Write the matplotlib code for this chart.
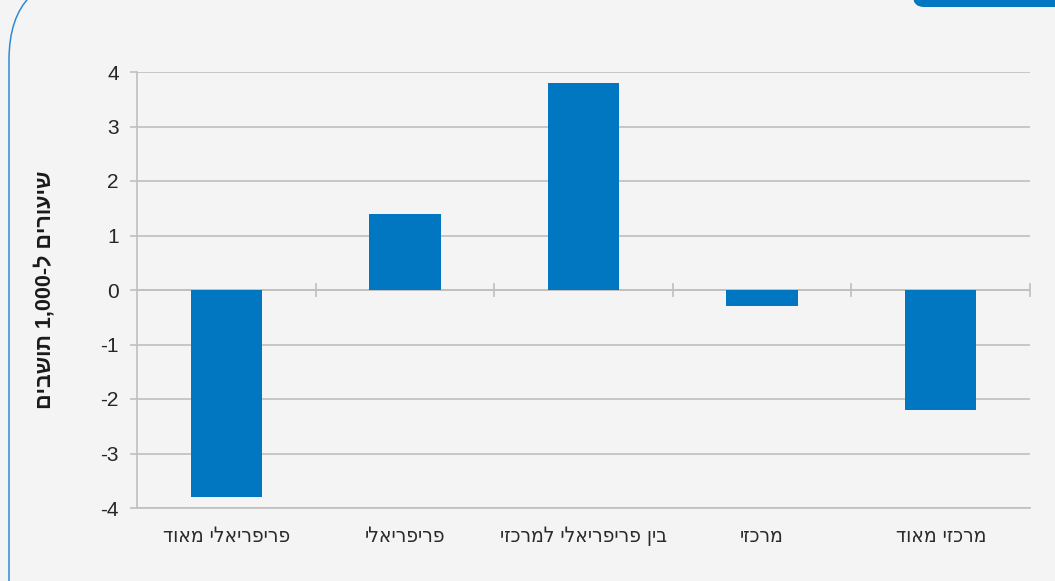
import matplotlib
matplotlib.use("Agg")
import matplotlib.pyplot as plt
from matplotlib.patches import FancyBboxPatch
import numpy as np

# ---- data ----
categories = ["פריפריאלי מאוד", "פריפריאלי", "בין פריפריאלי למרכזי", "מרכזי", "מרכזי מאוד"]
values = [-3.8, 1.4, 3.8, -0.3, -2.2]
yticks = [-4, -3, -2, -1, 0, 1, 2, 3, 4]
ylabel_parts = ["שיעורים", "ל-", "1,000", "תושבים"]

def visual(s):
    # matplotlib has no bidi support: reverse Hebrew text for display
    return s[::-1]

W, H = 1055, 581
fig = plt.figure(figsize=(W / 100, H / 100), dpi=100)
fig.patch.set_facecolor("#f4f4f4")

# decorative overlay in pixel coordinates
deco = fig.add_axes([0, 0, 1, 1], zorder=0)
deco.set_xlim(0, W)
deco.set_ylim(H, 0)
deco.axis("off")
deco.add_patch(FancyBboxPatch((9, -25), 1200, 800,
                              boxstyle="round,pad=0,rounding_size=85",
                              facecolor="none", edgecolor="#2f8ad6", linewidth=1.1))
deco.add_patch(FancyBboxPatch((913, -40), 300, 47,
                              boxstyle="round,pad=0,rounding_size=11",
                              facecolor="#0077c0", edgecolor="none"))

ax = fig.add_axes([137 / W, 1 - 508 / H, (1030 - 137) / W, (508 - 72) / H], zorder=1)
ax.set_facecolor("none")

x = np.arange(len(categories))
ax.bar(x, values, width=0.4, color="#0077c0", zorder=3)

grid_c = "#bfbfbf"
ax.set_xlim(-0.5, len(categories) - 0.5)
ax.set_ylim(-4, 4)
ax.set_yticks(yticks)
ax.set_yticklabels([str(v) for v in yticks], fontsize=15, color="#262626",
                   family="Liberation Sans")
ax.yaxis.grid(True, color=grid_c, linewidth=1.2, zorder=0)
ax.tick_params(axis="y", length=5, width=1.2, color=grid_c, pad=8)

ax.set_xticks(x)
ax.set_xticklabels([visual(c) for c in categories], fontsize=15, color="#2a2a2a",
                   family="DejaVu Sans", fontstretch="condensed")
ax.tick_params(axis="x", length=0, pad=13)

for s in ["top", "right"]:
    ax.spines[s].set_visible(False)
ax.spines["left"].set_color(grid_c)
ax.spines["left"].set_linewidth(1.2)
ax.spines["bottom"].set_color(grid_c)
ax.spines["bottom"].set_linewidth(1.2)

# zero axis line with category-boundary tick marks
ax.axhline(0, color=grid_c, linewidth=1.2, zorder=2)
bounds = np.arange(len(categories) + 1) - 0.5
ax.vlines(bounds[1:], -0.13, 0.13, color=grid_c, linewidth=1.2, zorder=2, clip_on=False)

label = visual(ylabel_parts[3]) + " " + ylabel_parts[2] + visual(ylabel_parts[1]) + " " + visual(ylabel_parts[0])
fig.text(45 / W, 1 - 290 / H, label, rotation=90, ha="center", va="center",
         fontsize=15.5, fontweight="bold", color="#1a1a1a",
         family=["Liberation Sans", "DejaVu Sans"])

fig.savefig("out.png", dpi=100, facecolor=fig.get_facecolor())
